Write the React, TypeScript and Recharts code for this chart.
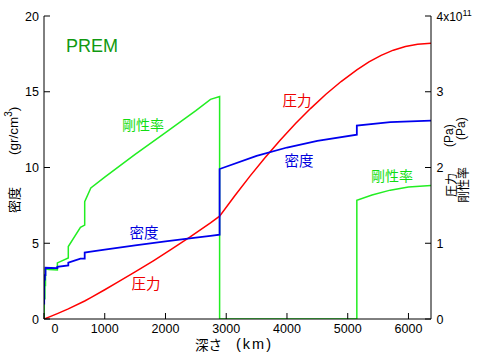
import { LineChart, Line, XAxis, YAxis } from "recharts";

// PREM profiles (depth in km)
const densityDepth = [0, 3, 3, 15, 15, 24.4, 24.4, 220, 220, 400, 400, 600, 670, 670, 771, 1000, 1500, 2000, 2500, 2741, 2891, 2891, 3500, 4000, 4500, 5150, 5150, 5700, 6371];
const densityValue = [1.02, 1.02, 2.6, 2.6, 2.9, 2.9, 3.38, 3.36, 3.44, 3.54, 3.72, 3.98, 3.99, 4.38, 4.44, 4.58, 4.86, 5.12, 5.37, 5.49, 5.57, 9.9, 10.77, 11.32, 11.76, 12.17, 12.76, 12.99, 13.09];

// pressure in GPa
const pressureDepth = [0, 24.4, 80, 220, 400, 670, 771, 1000, 1200, 1500, 1800, 2100, 2400, 2741, 2891, 3141, 3391, 3641, 3891, 4141, 4391, 4641, 4891, 5150, 5350, 5550, 5750, 5950, 6150, 6371];
const pressureValue = [0, 0.6, 2.45, 7.1, 13.35, 23.8, 28.3, 38.6, 47.9, 62.1, 76.8, 92.1, 108.0, 127.0, 135.8, 162.8, 188.6, 213.1, 236.3, 258.0, 278.1, 296.7, 313.5, 328.9, 339.4, 348.1, 354.9, 359.7, 362.8, 363.9];

// rigidity (shear modulus) in GPa
const rigidityDepth = [0, 3, 3, 15, 15, 24.4, 24.4, 80, 220, 220, 400, 400, 600, 670, 670, 771, 1000, 1500, 2000, 2500, 2741, 2891, 2891, 5150, 5150, 5400, 5700, 6000, 6371];
const rigidityValue = [0, 0, 26.6, 26.6, 44.1, 44.1, 66.0, 65.5, 64.8, 74.1, 80.6, 95.7, 121.0, 123.9, 154.8, 173.0, 187.4, 217.4, 246.1, 275.2, 289.9, 293.7, 0, 0, 156.7, 163.7, 170.1, 174.2, 176.1];

const xTicks = [0, 1000, 2000, 3000, 4000, 5000, 6000];
const leftTicks = [0, 5, 10, 15, 20];
const rightTicks = [0, 1e11, 2e11, 3e11, 4e11];

const density = densityDepth.map((d, i) => ({ depth: d, v: densityValue[i] }));
const pressure = pressureDepth.map((d, i) => ({ depth: d, v: pressureValue[i] * 1e9 }));
const rigidity = rigidityDepth.map((d, i) => ({ depth: d, v: rigidityValue[i] * 1e9 }));

const FONT = "'Liberation Sans', Arial, 'Noto Sans CJK JP', sans-serif";
const JP = "'Noto Sans CJK JP', sans-serif";
const TICK = 6;

const BottomTick = ({ x, y, payload }: any) => (
  <g>
    <line x1={x} y1={y} x2={x} y2={y - TICK} stroke="#000" />
    <text x={x + (payload.value === 0 ? 11 : 0)} y={y + 14} textAnchor="middle" fontSize={12.5} fontFamily={FONT} fill="#000">
      {payload.value}
    </text>
  </g>
);

const TopTick = ({ x, y }: any) => <line x1={x} y1={y} x2={x} y2={y + TICK} stroke="#000" />;

const LeftTick = ({ x, y, payload }: any) => (
  <g>
    <line x1={x} y1={y} x2={x + TICK} y2={y} stroke="#000" />
    <text x={x - 5} y={y + 4.5} textAnchor="end" fontSize={12.5} fontFamily={FONT} fill="#000">
      {payload.value}
    </text>
  </g>
);

const RightTick = ({ x, y, payload }: any) => {
  const n = payload.value / 1e11;
  return (
    <g>
      <line x1={x} y1={y} x2={x - TICK} y2={y} stroke="#000" />
      {n === 4 ? (
        <text x={x + 5.5} y={y + 4.5} textAnchor="start" fontSize={12} fontFamily={FONT} fill="#000">
          4x10<tspan dy={-4.5} fontSize={9}>11</tspan>
        </text>
      ) : (
        <text x={x + 5.5} y={y + 4.5} textAnchor="start" fontSize={12.5} fontFamily={FONT} fill="#000">
          {n}
        </text>
      )}
    </g>
  );
};

export default function App() {
  return (
    <div style={{ position: "absolute", left: 0, top: 0, width: 483, height: 361, background: "#fff" }}>
      <LineChart width={483} height={361} data={density} margin={{ top: 16, right: 0, bottom: 0, left: 0 }}>
        <XAxis
          dataKey="depth"
          type="number"
          domain={[0, 6371]}
          ticks={xTicks}
          height={42}
          tickSize={0}
          tickMargin={0}
          tickLine={false}
          axisLine={{ stroke: "#000" }}
          tick={<BottomTick />}
          allowDataOverflow
        />
        <XAxis
          xAxisId="top"
          orientation="top"
          dataKey="depth"
          type="number"
          domain={[0, 6371]}
          ticks={xTicks.slice(1)}
          height={0}
          tickSize={0}
          tickMargin={0}
          tickLine={false}
          axisLine={{ stroke: "#000" }}
          tick={<TopTick />}
          allowDataOverflow
        />
        <YAxis
          yAxisId="left"
          type="number"
          domain={[0, 20]}
          ticks={leftTicks}
          width={44}
          tickSize={0}
          tickMargin={0}
          tickLine={false}
          axisLine={{ stroke: "#000" }}
          tick={<LeftTick />}
          allowDataOverflow
        />
        <YAxis
          yAxisId="right"
          orientation="right"
          type="number"
          domain={[0, 4e11]}
          ticks={rightTicks}
          width={52}
          tickSize={0}
          tickMargin={0}
          tickLine={false}
          axisLine={{ stroke: "#000" }}
          tick={<RightTick />}
          allowDataOverflow
        />
        <Line data={rigidity} yAxisId="right" dataKey="v" type="linear" stroke="#22ee22" strokeWidth={1.5} dot={false} isAnimationActive={false} />
        <Line data={pressure} yAxisId="right" dataKey="v" type="linear" stroke="#ff0000" strokeWidth={1.5} dot={false} isAnimationActive={false} />
        <Line data={density} yAxisId="left" dataKey="v" type="linear" stroke="#0000ee" strokeWidth={1.8} dot={false} isAnimationActive={false} />
      </LineChart>
      <svg width={483} height={361} style={{ position: "absolute", left: 0, top: 0, pointerEvents: "none" }}>
        <text x={66} y={52} fontSize={18} fontFamily={FONT} fill="#119911">PREM</text>
        <text x={143} y={130} textAnchor="middle" fontSize={14} fontFamily={JP} fill="#11dd11">剛性率</text>
        <text x={297} y={105.5} textAnchor="middle" fontSize={14.5} fontFamily={JP} fill="#ee0000">圧力</text>
        <text x={299} y={165.5} textAnchor="middle" fontSize={14.5} fontFamily={JP} fill="#0000dd">密度</text>
        <text x={392} y={180.5} textAnchor="middle" fontSize={14} fontFamily={JP} fill="#11dd11">剛性率</text>
        <text x={144} y={238} textAnchor="middle" fontSize={14.5} fontFamily={JP} fill="#0000dd">密度</text>
        <text x={146} y={288.5} textAnchor="middle" fontSize={14.5} fontFamily={JP} fill="#ee0000">圧力</text>

        <text x={195} y={349.5} fontSize={13.5} fontFamily={JP} fill="#000">深さ</text>
        <text x={236} y={349} fontSize={14.5} letterSpacing={2} fontFamily={FONT} fill="#000">(km)</text>

        <text transform="translate(13,213) rotate(-90)" dominantBaseline="central" fontSize={13} fontFamily={JP} fill="#000">密度</text>
        <text transform="translate(13,155) rotate(-90)" dominantBaseline="central" fontSize={13.5} fontFamily={FONT} fill="#000">
          (gr/cm<tspan dy={-5} fontSize={10}>3</tspan><tspan dy={5}>)</tspan>
        </text>

        <text transform="translate(450,197) rotate(-90)" dominantBaseline="central" fontSize={12} fontFamily={JP} fill="#000">圧力</text>
        <text transform="translate(449,147) rotate(-90)" dominantBaseline="central" fontSize={12} fontFamily={FONT} fill="#000">(Pa)</text>
        <text transform="translate(462,203) rotate(-90)" dominantBaseline="central" fontSize={12} fontFamily={JP} fill="#000">剛性率</text>
        <text transform="translate(461,140) rotate(-90)" dominantBaseline="central" fontSize={12} fontFamily={FONT} fill="#000">(Pa)</text>
      </svg>
    </div>
  );
}
